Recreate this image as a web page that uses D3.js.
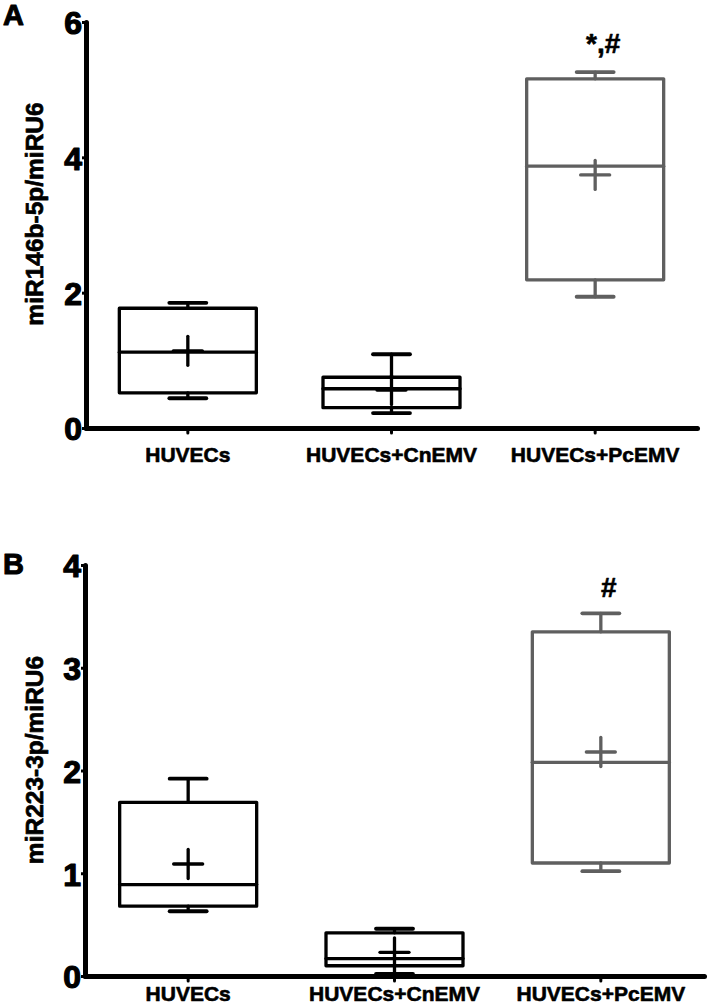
<!DOCTYPE html>
<html><head><meta charset="utf-8">
<script src="https://cdn.jsdelivr.net/npm/d3@7"></script>
<style>body{margin:0;background:#fff}svg{display:block}text{font-family:"Liberation Sans",Arial,sans-serif;font-weight:bold}</style>
</head><body><svg id="c" width="708" height="1007"></svg>
<script>
const categories = ["HUVECs","HUVECs+CnEMV","HUVECs+PcEMV"];
const groupColors = ["#000000","#000000","#5f5f5f"];
// Panel A: miR146b-5p/miRU6
const aLow    = [0.44, 0.22, 1.94];
const aQ1     = [0.52, 0.30, 2.19];
const aMedian = [1.12, 0.58, 3.87];
const aQ3     = [1.77, 0.75, 5.16];
const aHigh   = [1.85, 1.09, 5.26];
const aMean   = [1.14, 0.56, 3.74];
const aTicks  = [0, 2, 4, 6];
const aNotes  = ["", "", "*,#"];
// Panel B: miR223-3p/miRU6
const bLow    = [0.63, 0.02, 1.02];
const bQ1     = [0.68, 0.10, 1.10];
const bMedian = [0.89, 0.17, 2.08];
const bQ3     = [1.69, 0.42, 3.35];
const bHigh   = [1.92, 0.46, 3.53];
const bMean   = [1.09, 0.23, 2.18];
const bTicks  = [0, 1, 2, 3, 4];
const bNotes  = ["", "", "#"];

const svg = d3.select("#c");

function heavy(sel, w){
  return sel.attr("fill","#000").attr("stroke","#000").attr("stroke-width",w).attr("stroke-linejoin","round")
    .style("font-family","'Liberation Sans',Arial,sans-serif").style("font-weight","bold");
}

function panel(o){
  const g = svg.append("g");
  const x = d3.scaleBand().domain(categories).range([o.x0, o.x1]).padding(0);
  const y = d3.scaleLinear().domain([0, o.max]).range([o.yb, o.yt]);
  const bw = 137, cap = 37, pm = 14.5;
  const data = categories.map((c,i)=>({c, lo:o.low[i], q1:o.q1[i], md:o.med[i], q3:o.q3[i], hi:o.high[i], mn:o.mean[i], col:groupColors[i], note:o.notes[i]}));
  const bx = g.selectAll("g.b").data(data).join("g").attr("class","b")
    .attr("stroke", d=>d.col).attr("fill","none").attr("stroke-width",3.3).attr("stroke-linecap","round");
  const cx = d => x(d.c) + x.bandwidth()/2;
  bx.append("line").attr("x1",cx).attr("x2",cx).attr("y1",d=>y(d.q3)).attr("y2",d=>y(d.hi));
  bx.append("line").attr("x1",cx).attr("x2",cx).attr("y1",d=>y(d.q1)).attr("y2",d=>y(d.lo));
  bx.append("line").attr("x1",d=>cx(d)-cap/2).attr("x2",d=>cx(d)+cap/2).attr("y1",d=>y(d.hi)).attr("y2",d=>y(d.hi)).attr("stroke-width",3.8);
  bx.append("line").attr("x1",d=>cx(d)-cap/2).attr("x2",d=>cx(d)+cap/2).attr("y1",d=>y(d.lo)).attr("y2",d=>y(d.lo)).attr("stroke-width",3.8);
  bx.append("rect").attr("x",d=>cx(d)-bw/2).attr("width",bw).attr("y",d=>y(d.q3)).attr("height",d=>y(d.q1)-y(d.q3)).attr("stroke-linejoin","round");
  bx.append("line").attr("x1",d=>cx(d)-bw/2).attr("x2",d=>cx(d)+bw/2).attr("y1",d=>y(d.md)).attr("y2",d=>y(d.md));
  bx.append("line").attr("x1",d=>cx(d)-pm).attr("x2",d=>cx(d)+pm).attr("y1",d=>y(d.mn)).attr("y2",d=>y(d.mn));
  bx.append("line").attr("x1",cx).attr("x2",cx).attr("y1",d=>y(d.mn)-pm).attr("y2",d=>y(d.mn)+pm);
  heavy(g.selectAll("text.n").data(data.filter(d=>d.note)).join("text").attr("class","n")
    .attr("x",d=>cx(d)+8).attr("y",d=>y(d.hi)-o.noteGap).attr("text-anchor","middle")
    .attr("font-size",28).text(d=>d.note), 0.6);
  // y axis
  const ya = g.append("g").attr("transform",`translate(${o.x0},0)`)
    .call(d3.axisLeft(y).tickValues(o.ticks).tickFormat(d3.format("d")).tickSize(4).tickSizeOuter(0).tickPadding(0));
  ya.select(".domain").attr("stroke","#000").attr("stroke-width",5).attr("stroke-linecap","round");
  ya.selectAll(".tick line").attr("stroke","#000").attr("stroke-width",3);
  heavy(ya.selectAll(".tick text").attr("font-size",32).attr("dy","0.37em"), 1.2);
  // x axis
  const xa = g.append("g").attr("transform",`translate(0,${o.yb})`)
    .call(d3.axisBottom(x).tickSize(5).tickSizeOuter(0).tickPadding(o.xPad));
  xa.select(".domain").attr("stroke","#000").attr("stroke-width",5).attr("stroke-linecap","round");
  xa.selectAll(".tick line").attr("stroke","#000").attr("stroke-width",3).attr("stroke-linecap","round");
  heavy(xa.selectAll(".tick text").attr("font-size",21), 0.6);
  // y title
  heavy(g.append("text").attr("transform",`translate(${o.titleX},${o.titleY}) rotate(-90)`)
    .attr("text-anchor","middle").attr("dy","0.35em").attr("font-size",24.5).text(o.title), 0.7);
  // panel letter
  heavy(g.append("text").attr("x",o.letterX).attr("y",o.letterY).attr("font-size",29).text(o.letter), 1);
}

panel({x0:86, x1:697, yb:428, yt:22, max:6, low:aLow, q1:aQ1, med:aMedian, q3:aQ3, high:aHigh, mean:aMean,
  ticks:aTicks, notes:aNotes, noteGap:19, xPad:14, title:"miR146b-5p/miRU6", titleX:34, titleY:214, letter:"A", letterX:3, letterY:25});
panel({x0:85, x1:704, yb:976, yt:565, max:4, low:bLow, q1:bQ1, med:bMedian, q3:bQ3, high:bHigh, mean:bMean,
  ticks:bTicks, notes:bNotes, noteGap:16, xPad:5, title:"miR223-3p/miRU6", titleX:34, titleY:760, letter:"B", letterX:3, letterY:574});
</script></body></html>
